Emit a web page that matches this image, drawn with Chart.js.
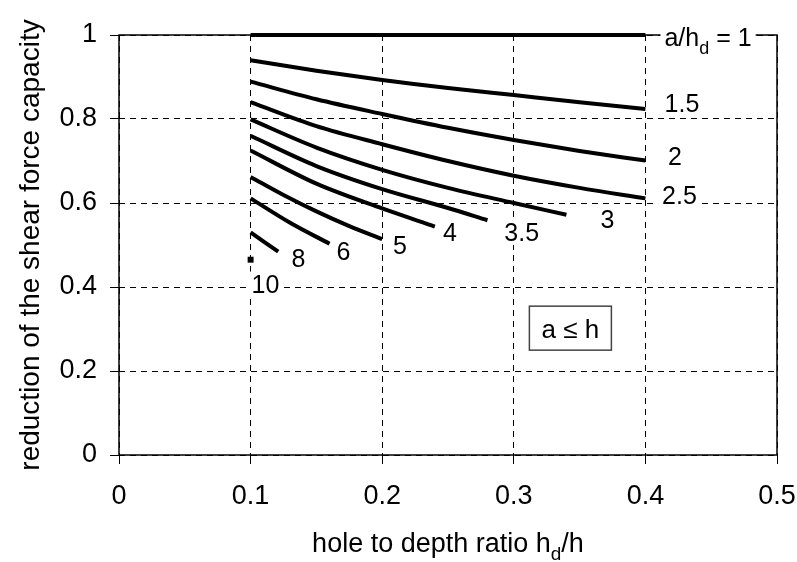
<!DOCTYPE html>
<html>
<head>
<meta charset="utf-8">
<script src="https://cdn.jsdelivr.net/npm/chart.js@4.4.0/dist/chart.umd.min.js"></script>
<style>
  html, body { margin: 0; padding: 0; background: #fff; }
</style>
</head>
<body>
<canvas id="grafik" width="797" height="562"></canvas>
<script>
const FONT = '"Liberation Sans", Arial, sans-serif';

// axis ticks
const xTicks = [0, 0.1, 0.2, 0.3, 0.4, 0.5];
const yTicks = [0, 0.2, 0.4, 0.6, 0.8, 1];

// curves for a/hd
const curveNames = ['1', '1.5', '2', '2.5', '3', '3.5', '4', '5', '6', '8'];
const curveX = [
  [0.1, 0.4],
  [0.1, 0.15, 0.2, 0.25, 0.3, 0.35, 0.4],
  [0.1, 0.15, 0.2, 0.25, 0.3, 0.35, 0.4],
  [0.1, 0.15, 0.2, 0.25, 0.3, 0.35, 0.4],
  [0.1, 0.15, 0.2, 0.25, 0.3, 0.34],
  [0.1, 0.15, 0.2, 0.25, 0.28],
  [0.1, 0.15, 0.2, 0.24],
  [0.1, 0.125, 0.15, 0.175, 0.2],
  [0.1, 0.13, 0.16],
  [0.1, 0.121]
];
const curveY = [
  [1, 1],
  [0.940, 0.915, 0.893, 0.874, 0.857, 0.840, 0.824],
  [0.889, 0.847, 0.812, 0.779, 0.750, 0.724, 0.701],
  [0.840, 0.783, 0.740, 0.700, 0.665, 0.636, 0.611],
  [0.799, 0.732, 0.679, 0.636, 0.600, 0.572],
  [0.760, 0.688, 0.633, 0.588, 0.559],
  [0.725, 0.646, 0.587, 0.544],
  [0.662, 0.619, 0.580, 0.545, 0.514],
  [0.611, 0.553, 0.503],
  [0.530, 0.484]
];

// a/hd = 10 is only a single point
const point10X = [0.1];
const point10Y = [0.465];

// curve labels (text centre in data units)
const labelText = ['a/h_d = 1', '1.5', '2', '2.5', '3', '3.5', '4', '5', '6', '8', '10'];
const labelX = [0.4476, 0.4278, 0.4225, 0.4259, 0.3712, 0.3060, 0.2515, 0.2135, 0.1706, 0.1364, 0.1113];
const labelY = [0.995, 0.837, 0.711, 0.618, 0.562, 0.530, 0.530, 0.500, 0.486, 0.470, 0.407];

const xTitle = 'hole to depth ratio h_d/h';
const yTitle = 'reduction of the shear force capacity';
const boxText = 'a \u2264 h';
const boxX = 0.343;
const boxY = 0.302;

// text with "_x" meaning subscript x
function splitRich(str) {
  const parts = [];
  let cur = '';
  for (let i = 0; i < str.length; i++) {
    if (str[i] === '_' && i + 1 < str.length) {
      if (cur) parts.push({ t: cur, sub: false });
      parts.push({ t: str[i + 1], sub: true });
      cur = '';
      i++;
    } else {
      cur += str[i];
    }
  }
  if (cur) parts.push({ t: cur, sub: false });
  return parts;
}

function richWidth(ctx, parts, size) {
  let w = 0;
  parts.forEach(p => {
    ctx.font = (p.sub ? Math.round(size * 0.72) : size) + 'px ' + FONT;
    w += ctx.measureText(p.t).width;
  });
  return w;
}

function drawRich(ctx, str, cx, baseline, size) {
  const parts = splitRich(str);
  const w = richWidth(ctx, parts, size);
  let x = cx - w / 2;
  ctx.textAlign = 'left';
  ctx.textBaseline = 'alphabetic';
  ctx.fillStyle = '#000';
  parts.forEach(p => {
    ctx.font = (p.sub ? Math.round(size * 0.72) : size) + 'px ' + FONT;
    ctx.fillText(p.t, x, p.sub ? baseline + size * 0.3 : baseline);
    x += ctx.measureText(p.t).width;
  });
  return w;
}

const framePlugin = {
  id: 'frame',
  beforeDatasetsDraw(chart) {
    const { ctx, chartArea: a } = chart;
    ctx.save();
    ctx.strokeStyle = '#000';
    ctx.lineWidth = 1.5;
    ctx.setLineDash([]);
    ctx.strokeRect(a.left, a.top, a.right - a.left, a.bottom - a.top);
    ctx.restore();
  },
  afterDatasetsDraw(chart) {
    const { ctx, chartArea: a, scales } = chart;
    ctx.save();
    // curve labels with white background
    const size = 25;
    labelText.forEach((txt, i) => {
      const cx = scales.x.getPixelForValue(labelX[i]);
      const cy = scales.y.getPixelForValue(labelY[i]);
      const w = richWidth(ctx, splitRich(txt), size);
      ctx.fillStyle = '#fff';
      ctx.fillRect(cx - w / 2 - 4, cy - size * 0.5, w + 8, size);
      drawRich(ctx, txt, cx, cy + size * 0.36, size);
    });

    // a <= h box
    const bx = scales.x.getPixelForValue(boxX);
    const by = scales.y.getPixelForValue(boxY);
    ctx.fillStyle = '#fff';
    ctx.fillRect(bx - 41, by - 22, 82, 44);
    ctx.strokeStyle = '#444';
    ctx.lineWidth = 1.5;
    ctx.strokeRect(bx - 41, by - 22, 82, 44);
    drawRich(ctx, boxText, bx, by + 26 * 0.36, 26);

    // x axis title
    drawRich(ctx, xTitle, (a.left + a.right) / 2, 552, 27);
    ctx.restore();
  }
};

const datasets = curveNames.map((name, i) => ({
  label: 'a/hd = ' + name,
  data: curveX[i].map((x, j) => ({ x: x, y: curveY[i][j] })),
  showLine: true,
  borderColor: '#000',
  borderWidth: 4,
  pointRadius: 0,
  fill: false,
  clip: false,
  cubicInterpolationMode: 'monotone'
}));
datasets.push({
  label: 'a/hd = 10',
  data: point10X.map((x, j) => ({ x: x, y: point10Y[j] })),
  showLine: false,
  pointStyle: 'rect',
  pointRadius: 4.2,
  backgroundColor: '#000',
  borderWidth: 0
});

new Chart(document.getElementById('grafik').getContext('2d'), {
  type: 'scatter',
  data: { datasets: datasets },
  options: {
    responsive: false,
    devicePixelRatio: 1,
    animation: false,
    layout: { padding: { top: 35, right: 20, left: 0, bottom: 0 } },
    plugins: { legend: { display: false }, tooltip: { enabled: false } },
    scales: {
      x: {
        type: 'linear',
        min: 0,
        max: 0.5,
        afterBuildTicks: s => { s.ticks = xTicks.map(v => ({ value: v })); },
        afterFit: s => { s.height = 107; s.paddingLeft = 0; s.paddingRight = 0; },
        ticks: {
          color: '#000',
          padding: 16,
          font: { family: FONT, size: 27 },
          maxRotation: 0,
          callback: v => String(+v.toFixed(1))
        },
        grid: {
          color: '#000',
          lineWidth: 1,
          tickLength: 9,
          tickColor: '#000',
          tickWidth: 1
        },
        border: { display: false, dash: [6, 5] }
      },
      y: {
        type: 'linear',
        min: 0,
        max: 1,
        afterBuildTicks: s => { s.ticks = yTicks.map(v => ({ value: v })); },
        afterFit: s => { s.width = 119; s.paddingTop = 0; s.paddingBottom = 0; },
        ticks: {
          color: '#000',
          padding: 13,
          font: { family: FONT, size: 27 },
          callback: v => String(+v.toFixed(1))
        },
        grid: {
          color: '#000',
          lineWidth: 1,
          tickLength: 9,
          tickColor: '#000',
          tickWidth: 1
        },
        border: { display: false, dash: [6, 5] },
        title: {
          display: true,
          text: yTitle,
          color: '#000',
          font: { family: FONT, size: 28 },
          padding: { top: 14, bottom: 0 }
        }
      }
    }
  },
  plugins: [framePlugin]
});
</script>
</body>
</html>
